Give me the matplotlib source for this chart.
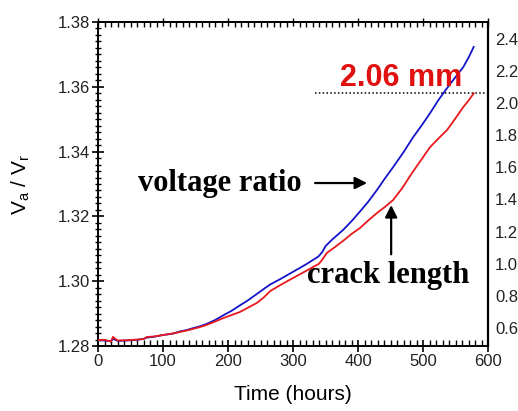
import matplotlib
matplotlib.use("Agg")
import matplotlib.pyplot as plt
from matplotlib.ticker import MultipleLocator

# ---- data ----
time_blue = [0, 10, 20, 23, 30, 45, 60, 70, 75, 85, 100, 115, 126, 136, 146, 157, 167, 180, 193, 205,
             218, 230, 244, 255, 265, 280, 300, 320, 339, 345, 350, 360, 377, 390, 403, 416, 429, 441,
             454, 470, 485, 498, 511, 524, 537, 550, 562, 570, 578]
ratio_blue = [1.2818, 1.2817, 1.2815, 1.2822, 1.2816, 1.2817, 1.2819, 1.2822, 1.2826, 1.2828, 1.2834,
              1.2838, 1.2845, 1.2849, 1.2855, 1.2861, 1.2868, 1.2880, 1.2895, 1.2908, 1.2925, 1.2940,
              1.2960, 1.2976, 1.2990, 1.3006, 1.3029, 1.3052, 1.3076, 1.3090, 1.3108, 1.3128, 1.3158,
              1.3185, 1.3215, 1.3246, 1.3281, 1.3316, 1.3352, 1.3398, 1.3445, 1.3481, 1.3519, 1.3560,
              1.3596, 1.3630, 1.3661, 1.3690, 1.3723]

time_red = [0, 10, 20, 23, 30, 45, 60, 70, 75, 85, 100, 115, 126, 136, 146, 157, 167, 180, 193, 205,
            218, 230, 244, 255, 265, 280, 300, 320, 340, 345, 352, 365, 378, 390, 403, 416, 429, 441,
            454, 468, 482, 497, 511, 524, 537, 550, 562, 570, 578]
crack_red = [0.525, 0.527, 0.515, 0.545, 0.522, 0.524, 0.528, 0.531, 0.544, 0.547, 0.556, 0.566, 0.575,
             0.584, 0.594, 0.606, 0.619, 0.640, 0.662, 0.680, 0.699, 0.725, 0.755, 0.790, 0.830, 0.866,
             0.911, 0.955, 1.000, 1.025, 1.067, 1.105, 1.145, 1.185, 1.222, 1.270, 1.315, 1.352, 1.396,
             1.470, 1.558, 1.645, 1.726, 1.780, 1.832, 1.905, 1.975, 2.015, 2.060]

crack_marker = 2.06
marker_start = 334

x_ticks = [0, 100, 200, 300, 400, 500, 600]
y_left_ticks = [1.28, 1.30, 1.32, 1.34, 1.36, 1.38]
y_right_ticks = [0.6, 0.8, 1.0, 1.2, 1.4, 1.6, 1.8, 2.0, 2.2, 2.4]

plt.rcParams['font.family'] = ['Liberation Sans', 'DejaVu Sans']

fig = plt.figure(figsize=(5.18, 4.11), dpi=100)
ax = fig.add_axes([98/518, 1-346/411, (488-98)/518, (346-22)/411])
ax2 = ax.twinx()

blue = '#1414c8'
red = '#e8181c'

ax.plot(time_blue, ratio_blue, color=blue, lw=1.3, zorder=3)
ax2.plot(time_red, crack_red, color=red, lw=1.3, zorder=3)
ax2.plot([marker_start, 600], [crack_marker, crack_marker], color='black', lw=1.1,
         linestyle=(0, (1, 1.5)), zorder=2)

ax.set_xlim(0, 600)
ax.set_ylim(1.28, 1.38)
ax2.set_ylim(0.488, 2.504)

ax.set_xticks(x_ticks)
ax.set_yticks(y_left_ticks)
ax.set_yticklabels([f"{v:.2f}" for v in y_left_ticks])
ax.xaxis.set_minor_locator(MultipleLocator(10))
ax.yaxis.set_minor_locator(MultipleLocator(0.002))
ax2.set_yticks(y_right_ticks)
ax2.set_yticklabels([f"{v:.1f}" for v in y_right_ticks])

ax.tick_params(axis='x', which='major', direction='inout', length=8, width=1.2, labelsize=12, pad=2)
ax.tick_params(axis='x', which='minor', direction='in', length=4, width=1.0)
ax.tick_params(axis='y', which='major', direction='inout', length=8, width=1.2, labelsize=12, pad=2)
ax.tick_params(axis='y', which='minor', direction='inout', length=4, width=1.0)
ax2.tick_params(axis='y', which='both', length=0, labelsize=12, pad=5)

sec = ax.secondary_xaxis('top')
sec.set_xticks(x_ticks)
sec.xaxis.set_minor_locator(MultipleLocator(10))
sec.tick_params(which='major', direction='inout', length=6, width=1.0, labeltop=False)
sec.tick_params(which='minor', direction='in', length=3.5, width=1.0)
sec.spines['top'].set_linewidth(1.2)

for a in (ax, ax2):
    for s in a.spines.values():
        s.set_linewidth(1.2)
ax2.spines['right'].set_linewidth(1.6)

for lab in ax.get_xticklabels() + ax.get_yticklabels() + ax2.get_yticklabels():
    lab.set_color('#222222')

ax.set_xlabel('Time (hours)', fontsize=15, labelpad=11)
ax.set_ylabel(r'V$_\mathregular{a}$ / V$_\mathregular{r}$', fontsize=15, labelpad=18)

serif = ['Liberation Serif', 'DejaVu Serif']
ax.text(61, 1.3303, 'voltage ratio', family=serif, fontweight='bold', fontsize=22,
        ha='left', va='center', zorder=5)
ax.annotate('', xy=(414, 1.3303), xytext=(334, 1.3303),
            arrowprops=dict(arrowstyle='-|>', lw=1.6, color='black', mutation_scale=18,
                            shrinkA=0, shrinkB=0), zorder=5)
ax.text(321, 1.3019, 'crack length', family=serif, fontweight='bold', fontsize=22,
        ha='left', va='center', zorder=5)
ax.annotate('', xy=(451, 1.3235), xytext=(451, 1.3083),
            arrowprops=dict(arrowstyle='-|>', lw=1.6, color='black', mutation_scale=18,
                            shrinkA=0, shrinkB=0), zorder=5)
ax.text(372, 1.3627, '2.06 mm', color='#e01010', fontweight='bold', fontsize=22,
        ha='left', va='center', zorder=5)

fig.savefig('out.png', dpi=100)
